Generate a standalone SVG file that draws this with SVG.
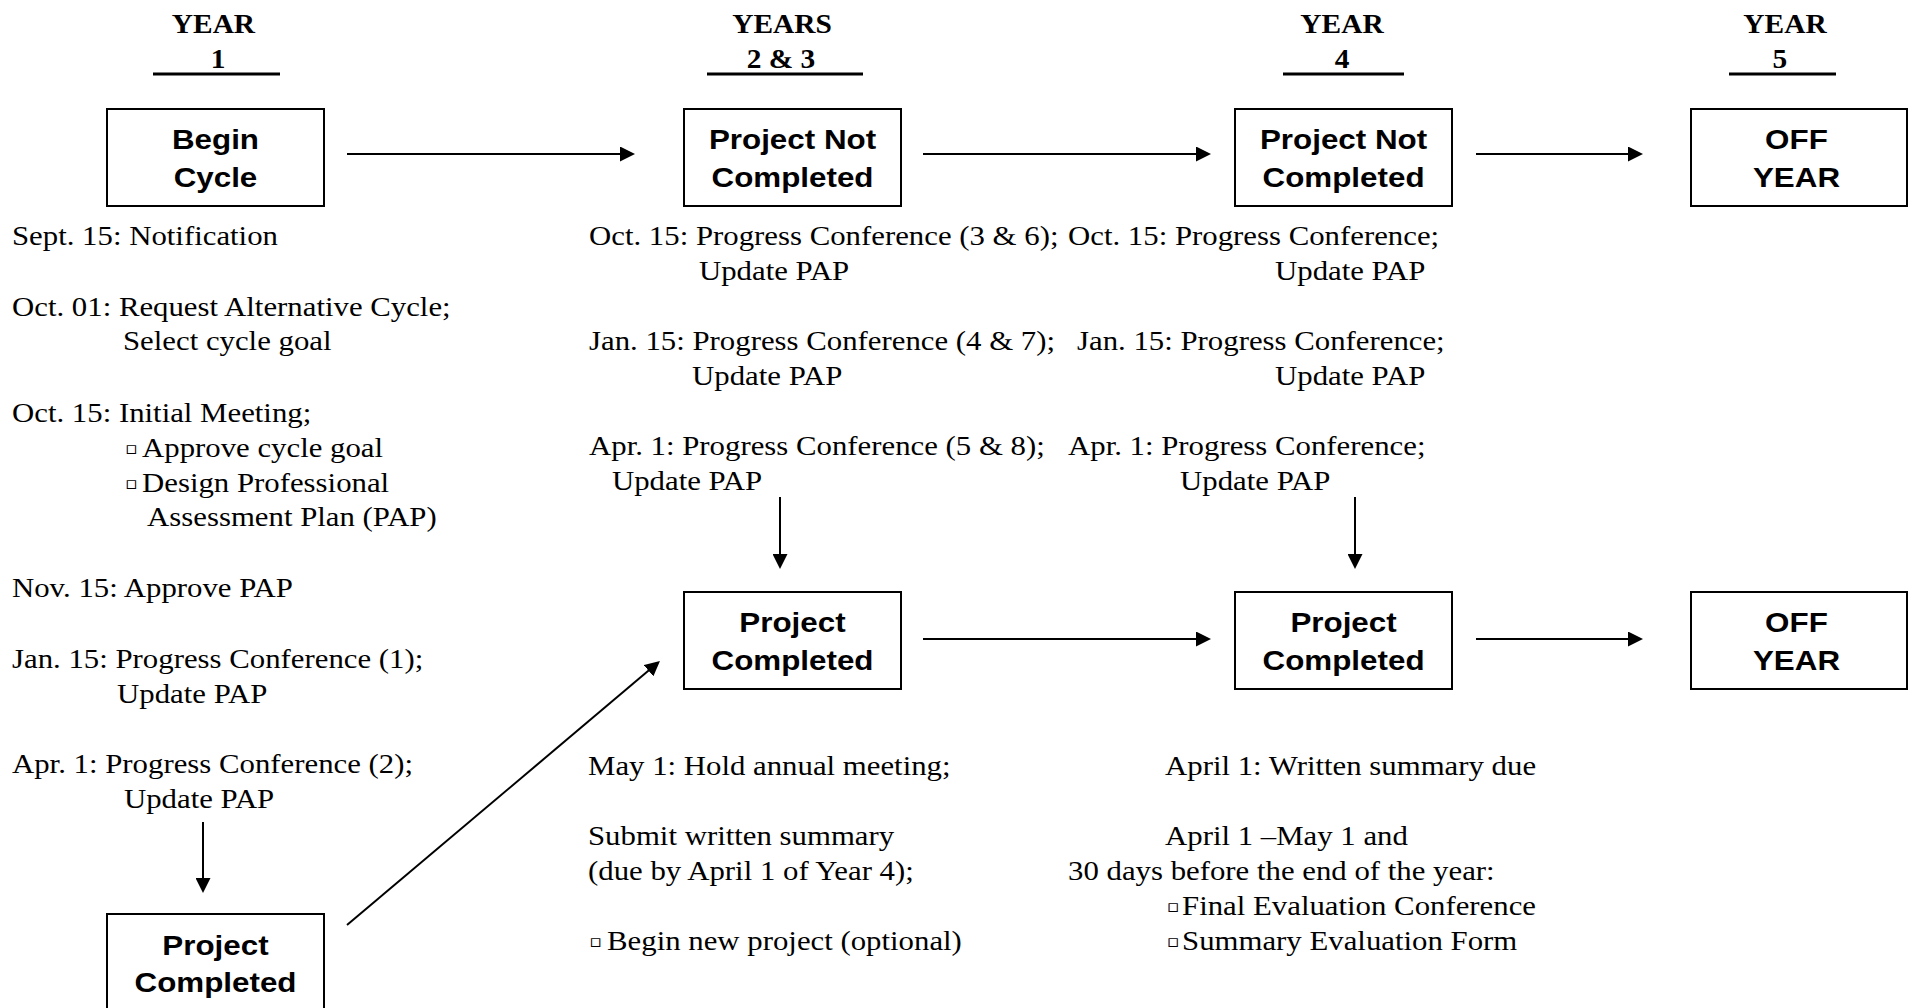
<svg xmlns="http://www.w3.org/2000/svg" width="1908" height="1008" viewBox="0 0 1908 1008">
<style>
.bg{fill:#fff}
.box{fill:#fff;stroke:#000;stroke-width:2}
.lbl{font-family:"Liberation Sans",Arial,sans-serif;font-weight:bold;font-size:28px;text-anchor:middle;fill:#000}
.hd{font-family:"Liberation Serif","Times New Roman",serif;font-weight:bold;font-size:28px;text-anchor:middle;fill:#000}
.t{font-family:"Liberation Serif","Times New Roman",serif;font-size:27.5px;fill:#000}
.b{font-family:"DejaVu Sans",sans-serif;font-size:17px;fill:#000}
.ul{stroke:#000;stroke-width:3}
.c{stroke:#000;stroke-width:2;fill:none;marker-end:url(#ah)}
</style>
<defs>
<marker id="ah" markerUnits="userSpaceOnUse" markerWidth="15" markerHeight="15" refX="11" refY="7.5" orient="auto" viewBox="0 0 15 15">
<path d="M0,0 L15,7.5 L0,15 z" fill="#000"/>
</marker>
</defs>
<rect class="bg" x="0" y="0" width="1908" height="1008"/>

<g id="headers">
<text class="hd" transform="scale(1.05 1)" x="203.3" y="33">YEAR</text>
<text class="hd" transform="scale(1.05 1)" x="207.6" y="68">1</text>
<line class="ul" x1="153" y1="74" x2="280" y2="74"/>
<text class="hd" transform="scale(1.05 1)" x="744.8" y="33">YEARS</text>
<text class="hd" transform="scale(1.05 1)" x="743.8" y="68">2 &amp; 3</text>
<line class="ul" x1="707" y1="74" x2="863" y2="74"/>
<text class="hd" transform="scale(1.05 1)" x="1278.1" y="33">YEAR</text>
<text class="hd" transform="scale(1.05 1)" x="1278.1" y="68">4</text>
<line class="ul" x1="1283" y1="74" x2="1404" y2="74"/>
<text class="hd" transform="scale(1.05 1)" x="1700" y="33">YEAR</text>
<text class="hd" transform="scale(1.05 1)" x="1695.2" y="68">5</text>
<line class="ul" x1="1729" y1="74" x2="1836" y2="74"/>
</g>

<g id="begin-cycle">
<rect class="box" x="107" y="109" width="217" height="97"/>
<text class="lbl" transform="scale(1.12 1)" x="192.4" y="149">Begin</text>
<text class="lbl" transform="scale(1.12 1)" x="192.4" y="187">Cycle</text>
</g>
<g id="not-completed-23">
<rect class="box" x="684" y="109" width="217" height="97"/>
<text class="lbl" transform="scale(1.12 1)" x="707.6" y="149">Project Not</text>
<text class="lbl" transform="scale(1.12 1)" x="707.6" y="187">Completed</text>
</g>
<g id="not-completed-4">
<rect class="box" x="1235" y="109" width="217" height="97"/>
<text class="lbl" transform="scale(1.12 1)" x="1199.6" y="149">Project Not</text>
<text class="lbl" transform="scale(1.12 1)" x="1199.6" y="187">Completed</text>
</g>
<g id="off-year-1">
<rect class="box" x="1691" y="109" width="216" height="97"/>
<text class="lbl" transform="scale(1.12 1)" x="1604" y="149">OFF</text>
<text class="lbl" transform="scale(1.12 1)" x="1604" y="187">YEAR</text>
</g>
<g id="completed-23">
<rect class="box" x="684" y="592" width="217" height="97"/>
<text class="lbl" transform="scale(1.12 1)" x="707.6" y="632">Project</text>
<text class="lbl" transform="scale(1.12 1)" x="707.6" y="670">Completed</text>
</g>
<g id="completed-4">
<rect class="box" x="1235" y="592" width="217" height="97"/>
<text class="lbl" transform="scale(1.12 1)" x="1199.6" y="632">Project</text>
<text class="lbl" transform="scale(1.12 1)" x="1199.6" y="670">Completed</text>
</g>
<g id="off-year-2">
<rect class="box" x="1691" y="592" width="216" height="97"/>
<text class="lbl" transform="scale(1.12 1)" x="1604" y="632">OFF</text>
<text class="lbl" transform="scale(1.12 1)" x="1604" y="670">YEAR</text>
</g>
<g id="completed-1">
<rect class="box" x="107" y="914" width="217" height="97"/>
<text class="lbl" transform="scale(1.12 1)" x="192.4" y="955">Project</text>
<text class="lbl" transform="scale(1.12 1)" x="192.4" y="992">Completed</text>
</g>

<g id="connectors">
<line class="c" x1="347" y1="154" x2="631" y2="154"/>
<line class="c" x1="923" y1="154" x2="1207" y2="154"/>
<line class="c" x1="1476" y1="154" x2="1639" y2="154"/>
<line class="c" x1="923" y1="639" x2="1207" y2="639"/>
<line class="c" x1="1476" y1="639" x2="1639" y2="639"/>
<line class="c" x1="203" y1="822" x2="203" y2="889"/>
<line class="c" x1="780" y1="497" x2="780" y2="565"/>
<line class="c" x1="1355" y1="497" x2="1355" y2="565"/>
<line class="c" x1="347" y1="925" x2="656.9" y2="663.6"/>
</g>

<g id="notes-year1" class="t">
<text transform="scale(1.12 1)" x="10.7" y="245">Sept. 15: Notification</text>
<text transform="scale(1.12 1)" x="10.7" y="316">Oct. 01: Request Alternative Cycle;</text>
<text transform="scale(1.12 1)" x="109.8" y="350">Select cycle goal</text>
<text transform="scale(1.12 1)" x="10.7" y="422">Oct. 15: Initial Meeting;</text>
<text class="b" transform="scale(1.12 1)" x="111.4" y="454">▫</text>
<text transform="scale(1.12 1)" x="126.8" y="457">Approve cycle goal</text>
<text class="b" transform="scale(1.12 1)" x="111.4" y="489">▫</text>
<text transform="scale(1.12 1)" x="126.8" y="492">Design Professional</text>
<text transform="scale(1.12 1)" x="131.3" y="526">Assessment Plan (PAP)</text>
<text transform="scale(1.12 1)" x="10.7" y="597">Nov. 15: Approve PAP</text>
<text transform="scale(1.12 1)" x="10.7" y="668">Jan. 15: Progress Conference (1);</text>
<text transform="scale(1.12 1)" x="104.5" y="703">Update PAP</text>
<text transform="scale(1.12 1)" x="10.7" y="773">Apr. 1: Progress Conference (2);</text>
<text transform="scale(1.12 1)" x="110.7" y="808">Update PAP</text>
</g>

<g id="notes-year23" class="t">
<text transform="scale(1.12 1)" x="525.9" y="245">Oct. 15: Progress Conference (3 &amp; 6);</text>
<text transform="scale(1.12 1)" x="624.1" y="280">Update PAP</text>
<text transform="scale(1.12 1)" x="525.9" y="350">Jan. 15: Progress Conference (4 &amp; 7);</text>
<text transform="scale(1.12 1)" x="617.9" y="385">Update PAP</text>
<text transform="scale(1.12 1)" x="525.9" y="455">Apr. 1: Progress Conference (5 &amp; 8);</text>
<text transform="scale(1.12 1)" x="546.4" y="490">Update PAP</text>
<text transform="scale(1.12 1)" x="525" y="775">May 1: Hold annual meeting;</text>
<text transform="scale(1.12 1)" x="525" y="845">Submit written summary</text>
<text transform="scale(1.12 1)" x="525" y="880">(due by April 1 of Year 4);</text>
<text class="b" transform="scale(1.12 1)" x="525.8" y="947">▫</text>
<text transform="scale(1.12 1)" x="542" y="950">Begin new project (optional)</text>
</g>

<g id="notes-year4" class="t">
<text transform="scale(1.12 1)" x="953.6" y="245">Oct. 15: Progress Conference;</text>
<text transform="scale(1.12 1)" x="1138.4" y="280">Update PAP</text>
<text transform="scale(1.12 1)" x="961.6" y="350">Jan. 15: Progress Conference;</text>
<text transform="scale(1.12 1)" x="1138.4" y="385">Update PAP</text>
<text transform="scale(1.12 1)" x="953.6" y="455">Apr. 1: Progress Conference;</text>
<text transform="scale(1.12 1)" x="1053.6" y="490">Update PAP</text>
<text transform="scale(1.12 1)" x="1040.2" y="775">April 1: Written summary due</text>
<text transform="scale(1.12 1)" x="1040.2" y="845">April 1 –May 1 and</text>
<text transform="scale(1.12 1)" x="953.6" y="880">30 days before the end of the year:</text>
<text class="b" transform="scale(1.12 1)" x="1041.6" y="912">▫</text>
<text transform="scale(1.12 1)" x="1055.4" y="915">Final Evaluation Conference</text>
<text class="b" transform="scale(1.12 1)" x="1041.6" y="947">▫</text>
<text transform="scale(1.12 1)" x="1055.4" y="950">Summary Evaluation Form</text>
</g>
</svg>
